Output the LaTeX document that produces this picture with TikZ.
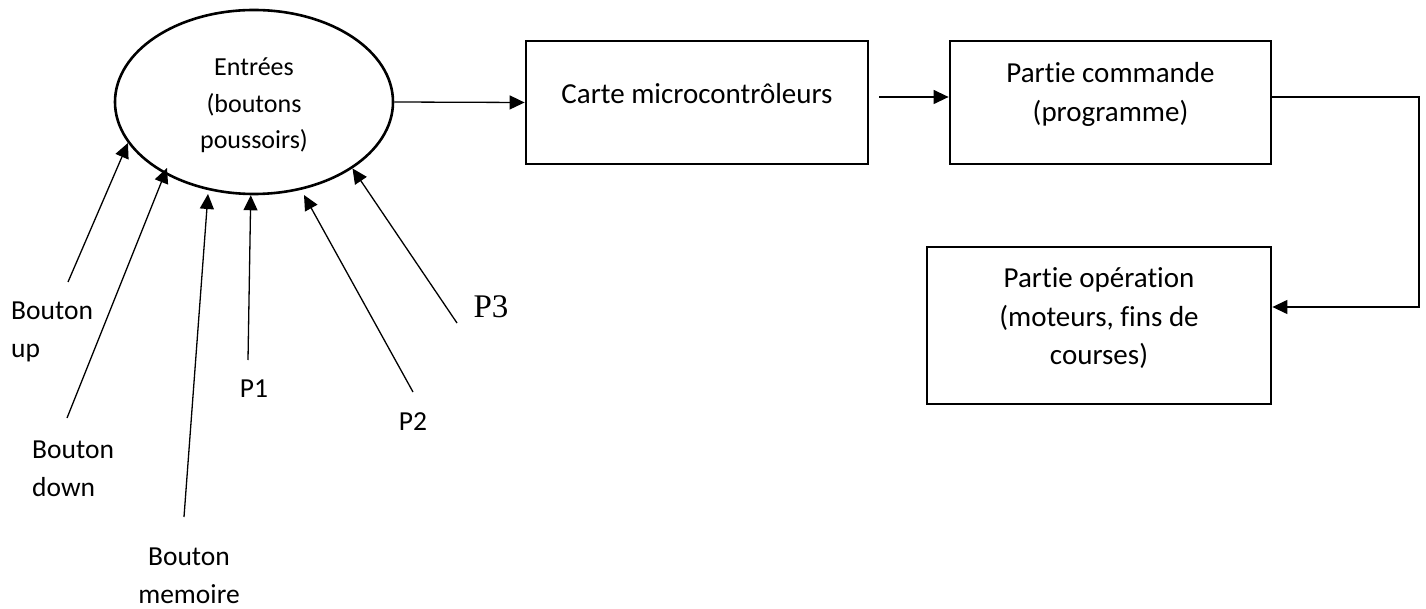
\documentclass[tikz,border=0pt]{standalone}
\usepackage{fontspec}
\setmainfont{Carlito}[Ligatures=NoCommon]
\newfontfamily\pfont{Liberation Serif}
\usetikzlibrary{arrows.meta,shapes.geometric}

\begin{document}
\begin{tikzpicture}[x=1pt,y=-1pt,
  boxnode/.style={draw,line width=2.8pt,rectangle,inner sep=0pt},
  flow/.style={line width=1.3pt,-{Triangle[length=15pt,width=14pt]}},
  boxtext/.style={font=\fontsize{29}{38.5}\selectfont,align=center,yshift=8pt},
  lbl/.style={font=\fontsize{27.5}{38}\selectfont,inner sep=0pt}]
\useasboundingbox (0,0) rectangle (1426,609);

% inputs (text sits slightly below the ellipse centre)
\node[draw,line width=2.6pt,ellipse,inner sep=0pt,minimum width=278pt,minimum height=184pt,
      label={[font=\fontsize{26}{36.5}\selectfont,align=center,yshift=-3.5pt]center:Entrées\\(boutons\\poussoirs)}]
      (ell) at (254,102) {};

% processing chain
\node[boxnode,minimum width=342pt,minimum height=123pt,
      label={[boxtext,yshift=1pt]center:Carte microcontrôleurs}] (carte) at (697,102.5) {};
\node[boxnode,minimum width=321pt,minimum height=123pt,
      label={[boxtext]center:Partie commande\\(programme)}] (cmd) at (1110.5,102.5) {};
\node[boxnode,minimum width=344pt,minimum height=157pt,
      label={[boxtext,yshift=-1pt]center:Partie opération\\(moteurs, fins de\\courses)}] (oper) at (1099,325.5) {};

% button labels
\node[lbl,anchor=west,align=left] (bup) at (11,332) {Bouton\\up};
\node[lbl,anchor=west,align=left] (bdown) at (32,468.5) {Bouton\\down};
\node[lbl,align=center] (bmem) at (189,576) {Bouton\\memoire};
\node[lbl] (p1) at (254,389) {P1};
\node[lbl] (p2) at (413,422) {P2};
\node[font=\pfont\fontsize{33}{38}\selectfont,inner sep=0pt] (p3) at (491,307) {P3};

% free ends of the input arrows
\coordinate (up-s)   at (68,282);
\coordinate (down-s) at (67,418);
\coordinate (down-t) at (167,168);
\coordinate (mem-s)  at (184,517);
\coordinate (mem-t)  at (208,194);
\coordinate (p1-s)   at (248,360);
\coordinate (p2-s)   at (413,392);
\coordinate (p2-t)   at (304,195);
\coordinate (p3-s)   at (457,323);

\draw[flow] (up-s)   -- (ell.198);
\draw[flow] (down-s) -- (down-t);
\draw[flow] (mem-s)  -- (mem-t);
\draw[flow] (p1-s)   -- (ell.268);
\draw[flow] (p2-s)   -- (p2-t);
\draw[flow] (p3-s)   -- (ell.326);

% main flow
\coordinate (c1) at (879,97);
\coordinate (bend1) at (1419,97);
\coordinate (bend2) at (1419,307);
\draw[flow] (ell.east) -- (carte.west);
\draw[flow] (c1) -- (c1 -| cmd.west);
\draw[flow] (bend1 -| cmd.east) -- (bend1) -- (bend2) -- (bend2 -| oper.east);
\end{tikzpicture}
\end{document}
